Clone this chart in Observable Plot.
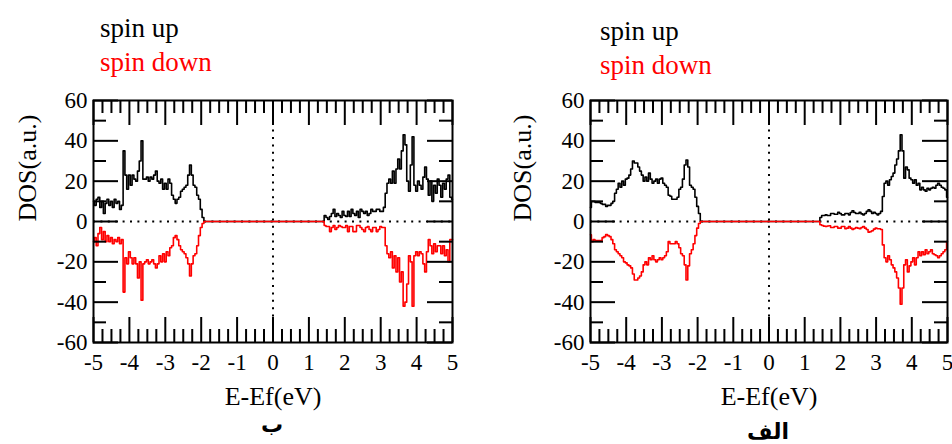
<!DOCTYPE html>
<html><head><meta charset="utf-8">
<script src="https://cdn.jsdelivr.net/npm/d3@7"></script>
<script src="https://cdn.jsdelivr.net/npm/@observablehq/plot@0.6"></script>
<style>
body{margin:0;background:#fff;width:952px;height:444px;overflow:hidden;position:relative;font-family:"Liberation Serif","Times New Roman",Times,serif;}
.lg{position:absolute;font-family:"Liberation Serif","Times New Roman",Times,serif;font-size:27px;line-height:1;white-space:nowrap;}
.panel{position:absolute;top:88px;}
.cap{position:absolute;font-family:"DejaVu Sans",sans-serif;font-weight:bold;font-size:22px;line-height:1;transform:translateX(-50%);direction:rtl;white-space:nowrap;}
</style></head><body>
<script>
// Energy grids (eV)
const energyVal = [-5,-4.95,-4.9,-4.85,-4.8,-4.75,-4.7,-4.65,-4.6,-4.55,-4.5,-4.45,-4.4,-4.35,-4.3,-4.25,-4.2,-4.15,-4.1,-4.05,-4,-3.95,-3.9,-3.85,-3.8,-3.75,-3.7,-3.65,-3.6,-3.55,-3.5,-3.45,-3.4,-3.35,-3.3,-3.25,-3.2,-3.15,-3.1,-3.05,-3,-2.95,-2.9,-2.85,-2.8,-2.75,-2.7,-2.65,-2.6,-2.55,-2.5,-2.45,-2.4,-2.35,-2.3,-2.25,-2.2,-2.15,-2.1,-2.05,-2,-1.95,-1.9];
const energyCond = [1.35,1.4,1.45,1.5,1.55,1.6,1.65,1.7,1.75,1.8,1.85,1.9,1.95,2,2.05,2.1,2.15,2.2,2.25,2.3,2.35,2.4,2.45,2.5,2.55,2.6,2.65,2.7,2.75,2.8,2.85,2.9,2.95,3,3.05,3.1,3.15,3.2,3.25,3.3,3.35,3.4,3.45,3.5,3.55,3.6,3.65,3.7,3.75,3.8,3.85,3.9,3.95,4,4.05,4.1,4.15,4.2,4.25,4.3,4.35,4.4,4.45,4.5,4.55,4.6,4.65,4.7,4.75,4.8,4.85,4.9,4.95,5];

// Panel "ب" (left)
const upB_val = [10,8,11,12,7,10,4,9,11,8, 10,7,11,9,10,6,8,35,23,16, 23,18,23,21,20,25,30,40,21,21, 22,20,22,21,23,25,20,19,21,16, 19,16,21,19,13,11,9,11,12,15, 16,17,18,23,28,23,18,17,13,11, 6,2,0];
const downB_val = [-10,-8,-12,-6,-3,-9,-5,-10,-7,-10, -8,-11,-9,-10,-8,-11,-9,-35,-18,-21, -15,-18,-21,-18,-21,-28,-20,-39,-21,-20, -19,-21,-20,-19,-21,-23,-21,-17,-20,-16, -20,-15,-17,-13,-12,-8,-7,-9,-12,-14, -15,-16,-18,-21,-27,-21,-17,-16,-12,-7, -3,-1,0];
const upB_cond = [0,0,3,2,1,2.5,4,6,2.5,4, 3,2,5,3,2.5,5,2.5,6,4,3, 5,2,6,5,4,5,3,4,6,5, 5,6,6,5,5,7,14,19,21,19, 25,19,26,31,26,35,43,38,20,15, 28,42,18,15,20,18,16,22,27,21, 13,20,10,18,14,21,18,12,19,16, 21,23,12,11];
const downB_cond = [0,0,-2,-2.5,-2.5,-5,-3,-2,-4,-3, -2,-2.5,-3,-3,-2,-5,-2.5,-2.5,-5,-5, -2,-2,-3,-4,-5,-3,-2.5,-4,-5,-3, -3,-5,-4,-2.5,-3,-3,-12,-16,-18,-15, -23,-17,-25,-18,-30,-25,-42,-40,-31,-17, -20,-42,-17,-15,-17,-15,-16,-21,-25,-15, -9,-12,-16,-11,-15,-12,-12,-16,-12,-17, -14,-20,-9,-9];

// Panel "الف" (right)
const upA_val = [7,10,10,9.5,9.5,9.5,9,8.5,8.5,7.5, 8,8,9,10,14,16,19,17,20,18, 21,21.5,23,26,30,29,29,27,25,23, 20,22,20,24,21,19,20,21,19,21, 21.5,19,18,17,13,12.5,11,11,11,12, 16,17,21,28,30.5,27,18,17,16,12, 7.5,4,0];
const downA_val = [-6.6,-10,-9,-9.5,-9.5,-9.5,-9.5,-8,-7.5,-6.5, -7,-7.5,-9,-11,-14,-15,-16,-17,-18,-20, -20.5,-21.5,-22,-23,-26,-29,-29,-28,-27,-25, -21.5,-20,-21.5,-18,-19,-17,-19,-20,-19,-18, -19,-18,-17,-15,-10,-11,-11,-11,-10,-11, -13,-16,-17,-21.5,-29,-22,-16,-14,-11,-7, -3.3,-1,0];
const upA_cond = [0,0,2,3,3,3.3,3,3,4,4, 3.6,3.6,4.6,4,3.3,3.3,4,4,3.3,4.5, 5.3,4.5,4,4,4.6,3.8,3.3,4,5,5.8, 5,4,4.6,4,3.3,4,5,12.4,19,20, 18,20.7,22.3,24,28,31,35,43,35,21.5, 27,25.6,21.5,20.7,19,20.7,18,19,15.7,17, 15.7,15,16.5,15.7,16.5,17,16.5,18,19,18, 17,16.5,15.7,12];
const downA_cond = [0,0,-1.6,-2,-2.3,-2.5,-2.2,-2.1,-3,-3, -2.5,-2.5,-3.3,-3.3,-2.5,-2.5,-3.6,-3.3,-2.5,-3.3, -4,-3.5,-3,-3.3,-3.6,-3,-2.5,-3.3,-4,-5.3, -5,-4.6,-3.8,-3.3,-3.6,-3.6,-4,-11.6,-18,-20, -17,-19,-21.5,-23,-25,-28,-33,-41,-33,-21.5, -19,-25,-22,-20,-18,-21.5,-18,-15,-17,-15, -16.5,-14,-16,-15,-14,-16,-16.5,-17,-18,-17, -16,-15,-14,-10];

// Ticks and labels
const xMajor = [-5,-4,-3,-2,-1,0,1,2,3,4,5];
const xMinor = d3.range(-4.75, 5, 0.25).filter(v => Math.abs(v - Math.round(v)) > 1e-9);
const yMajor = [-60,-40,-20,0,20,40,60];
const yMinor = [-50,-30,-10,10,30,50];
const zeroGuide = [0];
const legendLabels = ["spin up", "spin down"];
const seriesColors = ["#000000", "#ff0000"];
const xLabel = "E-Ef(eV)";
const yLabel = "DOS(a.u.)";
const captions = ["ب", "الف"];
const serif = "'Liberation Serif', 'Times New Roman', Times, serif";

function rowsFor(energies, values) {
  return energies.map((e, i) => ({E: e, dos: values[i]}));
}

function panel(upVal, downVal, upCond, downCond, o) {
  const W = 476, H = 320, mt = 12, mb = 66;
  const fw = W - o.ml - o.mr, fh = H - mt - mb;
  const up = rowsFor(energyVal.concat(energyCond), upVal.concat(upCond));
  const down = rowsFor(energyVal.concat(energyCond), downVal.concat(downCond));
  const tk = {stroke: "black", strokeWidth: 2};
  return Plot.plot({
    width: W, height: H,
    marginLeft: o.ml, marginRight: o.mr, marginTop: mt, marginBottom: mb,
    x: {domain: [-5, 5]},
    y: {domain: [-60, 60]},
    style: {fontFamily: serif, fontSize: "23px", color: "black", background: "transparent", overflow: "visible"},
    marks: [
      Plot.ruleY(zeroGuide, {y: d => d, stroke: "black", strokeWidth: 2, strokeDasharray: "2,5.4"}),
      Plot.ruleX(zeroGuide, {x: d => d, stroke: "black", strokeWidth: 2, strokeDasharray: "2,5.4"}),
      Plot.line(up, {x: "E", y: "dos", stroke: seriesColors[0], strokeWidth: 1.6, curve: "step"}),
      Plot.line(down, {x: "E", y: "dos", stroke: seriesColors[1], strokeWidth: 1.6, curve: "step"}),
      Plot.ruleX(xMinor, {x: d => d, insetBottom: fh - 13, ...tk}),
      Plot.ruleX(xMinor, {x: d => d, insetTop: fh - 13, ...tk}),
      Plot.ruleX(xMajor, {x: d => d, insetBottom: fh - 25, ...tk}),
      Plot.ruleX(xMajor, {x: d => d, insetTop: fh - 25, ...tk}),
      Plot.ruleY(yMinor, {y: d => d, insetRight: fw - 13, ...tk}),
      Plot.ruleY(yMinor, {y: d => d, insetLeft: fw - 13, ...tk}),
      Plot.ruleY(yMajor, {y: d => d, insetRight: fw - 25, ...tk}),
      Plot.ruleY(yMajor, {y: d => d, insetLeft: fw - 25, ...tk}),
      Plot.frame({stroke: "black", strokeWidth: 2}),
      Plot.axisX({anchor: "bottom", ticks: xMajor, tickSize: 0, tickPadding: 11, tickFormat: d => String(d), label: null, fontSize: 23, fontFamily: serif}),
      Plot.axisY({anchor: "left", ticks: yMajor, tickSize: 0, tickPadding: 6, tickFormat: d => String(d), label: null, fontSize: 23, fontFamily: serif}),
      Plot.text([xLabel], {text: d => d, frameAnchor: "bottom", dy: 54, lineAnchor: "middle", fontSize: 26, fontFamily: serif}),
      Plot.text([yLabel], {text: d => d, frameAnchor: "left", dx: o.ldx, rotate: -90, lineAnchor: "middle", fontSize: 26, fontFamily: serif})
    ]
  });
}

function addPanel(left, svg, legendX, legendTop, capX, capTop, capText) {
  const p = document.createElement("div");
  p.className = "panel"; p.style.left = left + "px";
  p.appendChild(svg);
  document.body.appendChild(p);
  legendLabels.forEach((t, i) => {
    const d = document.createElement("div");
    d.className = "lg"; d.textContent = t;
    d.style.left = legendX + "px"; d.style.top = (legendTop + i * 34) + "px";
    d.style.color = seriesColors[i];
    document.body.appendChild(d);
  });
  const c = document.createElement("div");
  c.className = "cap"; c.textContent = capText;
  c.style.left = capX + "px"; c.style.top = capTop + "px";
  document.body.appendChild(c);
}

addPanel(0, panel(upB_val, downB_val, upB_cond, downB_cond, {ml: 93, mr: 24, ldx: -66}), 100, 15, 272, 414, captions[0]);
addPanel(476, panel(upA_val, downA_val, upA_cond, downA_cond, {ml: 114, mr: 5, ldx: -68}), 600, 18, 768, 421, captions[1]);
</script>
</body></html>
